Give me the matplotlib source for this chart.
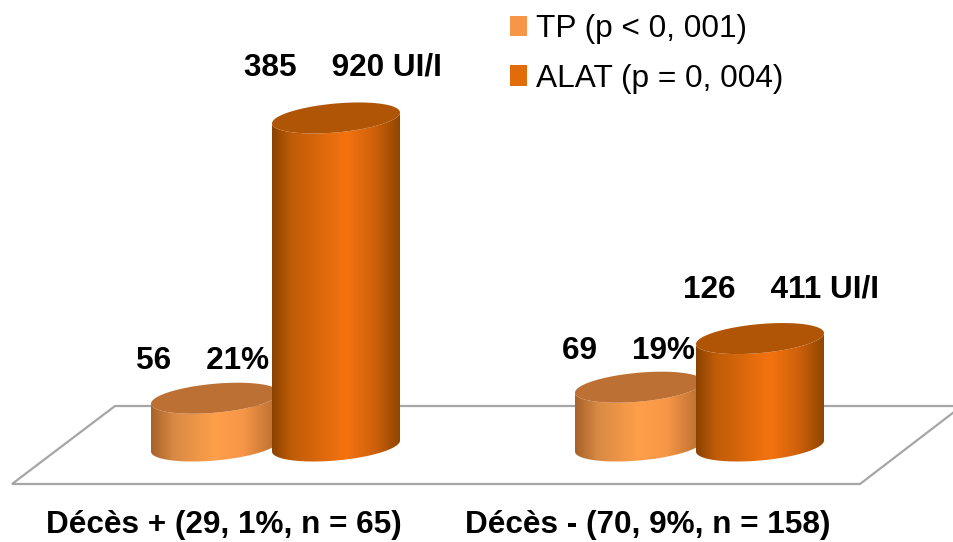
import numpy as np
import matplotlib
matplotlib.use("Agg")
import matplotlib.pyplot as plt
from matplotlib.colors import LinearSegmentedColormap
from matplotlib.patches import Patch, Polygon

plt.rcParams['font.family'] = ['Liberation Sans', 'DejaVu Sans']

groups = ["Décès + (29, 1%, n = 65)", "Décès - (70, 9%, n = 158)"]
tp_values = [56.21, 69.19]
alat_values = [385.92, 126.41]
tp_labels = ["56    21%", "69    19%"]
alat_labels = ["385    920 UI/I", "126    411 UI/I"]
legend_labels = ["TP (p < 0, 001)", "ALAT (p = 0, 004)"]

W, H = 954, 542
PX_PER_UNIT = 0.85
PX_PER_GROUP = 424.0

tp_cmap = LinearSegmentedColormap.from_list("tp", [(0, "#A8622A"), (0.18, "#D98A45"), (0.5, "#FF9F4A"), (0.72, "#F79646"), (1, "#B56C30")])
alat_cmap = LinearSegmentedColormap.from_list("alat", [(0, "#8A4200"), (0.15, "#BF5C08"), (0.58, "#F5730F"), (0.8, "#CF610C"), (1, "#8F4600")])

fig = plt.figure(figsize=(W / 100, H / 100), dpi=100)
ax = fig.add_axes([0, 0, 1, 1])
ax.axis("off")


def fx(x):
    return x / W


def fy(y):
    return 1 - y / H


def draw_cylinder(x, value, cmap, top_color, zorder):
    a = 64 / PX_PER_GROUP
    b = 14.5 / PX_PER_UNIT
    k = 5.5 / PX_PER_UNIT
    t = np.linspace(0, 2 * np.pi, 200)
    ex = x + a * np.cos(t)
    ey = b * np.sin(t) + k * np.cos(t)
    # lower half of the ellipse goes from left side to right side
    lower = np.linspace(np.pi, 2 * np.pi, 100)
    lx = x + a * np.cos(lower)
    ly = b * np.sin(lower) + k * np.cos(lower)
    body_x = np.r_[lx, lx[::-1]]
    body_y = np.r_[ly, ly[::-1] + value]
    im = ax.imshow(np.linspace(0, 1, 256).reshape(1, -1), cmap=cmap, aspect="auto",
                   extent=[x - a, x + a, -30, value + 30], zorder=zorder)
    body = Polygon(np.c_[body_x, body_y], closed=True, transform=ax.transData, facecolor="none", edgecolor="none")
    ax.add_patch(body)
    im.set_clip_path(body)
    ax.fill(ex, ey + value, color=top_color, lw=0, zorder=zorder + 0.5)


# floor of the 3d chart, drawn in pixels
ax_floor = fig.add_axes([0, 0, 1, 1], zorder=-1)
ax_floor.set_xlim(0, W)
ax_floor.set_ylim(H, 0)
ax_floor.axis("off")
ax_floor.plot([954, 115, 12, 860, 954], [406, 406, 484, 484, 412], color="#A6A6A6", lw=1.6, solid_joinstyle="miter")
ax.patch.set_visible(False)

centers = np.arange(len(groups))
offset = 60.5 / PX_PER_GROUP
for i in centers:
    draw_cylinder(i - offset, tp_values[i], tp_cmap, "#BC7033", 2)
    draw_cylinder(i + offset, alat_values[i], alat_cmap, "#B05506", 4)

# y = 0 sits at pixel 446, first group centre at pixel 275.5
ax.set_xlim(-275.5 / PX_PER_GROUP, (W - 275.5) / PX_PER_GROUP)
ax.set_ylim(-(H - 446) / PX_PER_UNIT, 446 / PX_PER_UNIT)

label_font = dict(fontsize=22.7, fontweight="bold", color="black", ha="center", va="center")
for label, x, y in zip(tp_labels, [203, 629], [361, 351]):
    fig.text(fx(x), fy(y), label, **label_font)
for label, x, y in zip(alat_labels, [343, 781], [68, 290]):
    fig.text(fx(x), fy(y), label, **label_font)
for label, x in zip(groups, [224, 648]):
    fig.text(fx(x), fy(525), label, **label_font)

handles = [Patch(facecolor="#F79646", label=legend_labels[0]), Patch(facecolor="#E36C0A", label=legend_labels[1])]
fig.legend(handles=handles, loc="upper left", bbox_to_anchor=(fx(510), fy(14)), borderaxespad=0, borderpad=0,
           frameon=False, fontsize=22.8, handlelength=0.55, handleheight=0.6, handletextpad=0.28, labelspacing=0.62)

fig.savefig("out.png", dpi=100)
